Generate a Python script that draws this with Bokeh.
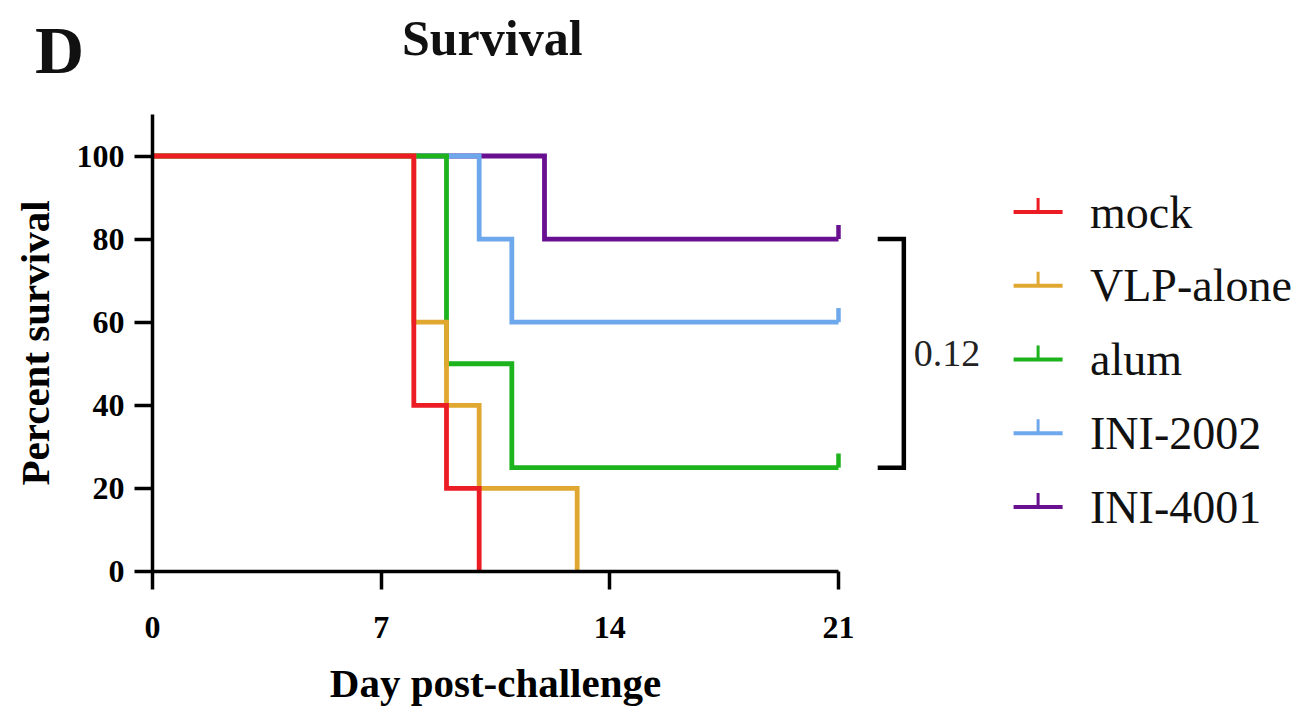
from bokeh.plotting import figure
from bokeh.models import Range1d, FixedTicker
from bokeh.core.properties import value
from bokeh.embed import file_html
from bokeh.resources import INLINE

# ---- data ----
groups = ["mock", "VLP-alone", "alum", "INI-2002", "INI-4001"]
colors = ["#EC1C24", "#E0A830", "#1DB31D", "#6EA8EC", "#68108F"]
mock_days = [0, 8, 9, 10]
mock_surv = [100, 40, 20, 0]
vlp_days = [0, 8, 9, 10, 13]
vlp_surv = [100, 60, 40, 20, 0]
alum_days = [0, 9, 11, 21]
alum_surv = [100, 50, 25, 25]
ini2002_days = [0, 10, 11, 21]
ini2002_surv = [100, 80, 60, 60]
ini4001_days = [0, 12, 21]
ini4001_surv = [100, 80, 80]
x_ticks = [0, 7, 14, 21]
y_ticks = [0, 20, 40, 60, 80, 100]
p_value = "0.12"
end_day = 21
title_text = "Survival"
panel_text = "D"

series_days = [mock_days, vlp_days, alum_days, ini2002_days, ini4001_days]
series_surv = [mock_surv, vlp_surv, alum_surv, ini2002_surv, ini4001_surv]

# ---- layout ----
W, H = 1295, 710
X0_PX, X21_PX = 152, 838        # screen x of day 0 and day 21
Y0_PX, Y100_PX = 571, 155.5     # screen y of 0 % and 100 %
ppd = (X21_PX - X0_PX) / 21.0
ppu = (Y0_PX - Y100_PX) / 100.0
x_lo, x_hi = -X0_PX / ppd, (W - X0_PX) / ppd
y_lo, y_hi = -(H - Y0_PX) / ppu, Y0_PX / ppu

FONT = value("Liberation Serif")
TICK_H = 3.4

p = figure(width=W, height=H, x_range=Range1d(x_lo, x_hi), y_range=Range1d(y_lo, y_hi),
           output_backend="svg", toolbar_location=None,
           min_border=0, min_border_left=0, min_border_right=0,
           min_border_top=0, min_border_bottom=0)
p.outline_line_color = None
p.grid.visible = False
p.background_fill_color = "white"
p.border_fill_color = "white"

# axes (fixed at the data origin)
for ax in (p.xaxis[0], p.yaxis[0]):
    ax.fixed_location = 0
    ax.axis_line_width = 3.5
    ax.axis_line_color = "black"
    ax.major_tick_line_width = 3.5
    ax.major_tick_line_color = "black"
    ax.major_tick_in = 0
    ax.major_tick_out = 18
    ax.minor_tick_line_color = None
    ax.major_label_text_font = "Liberation Serif"
    ax.major_label_text_font_style = "bold"
    ax.major_label_text_font_size = "32px"
    ax.major_label_text_color = "black"
    ax.axis_label_text_font = "Liberation Serif"
    ax.axis_label_text_font_style = "bold"
    ax.axis_label_text_font_size = "41px"
    ax.axis_label_text_color = "black"

p.xaxis.bounds = (0, 21)
p.yaxis.bounds = (0, 110)
p.xaxis.ticker = FixedTicker(ticks=x_ticks)
p.yaxis.ticker = FixedTicker(ticks=y_ticks)
p.xaxis.major_label_standoff = 27
p.yaxis.major_label_standoff = 10
p.xaxis.axis_label = "Day post-challenge"
p.yaxis.axis_label = "Percent survival"
p.xaxis.axis_label_standoff = 19
p.yaxis.axis_label_standoff = 16

# survival curves: draw in reverse so that mock is on top
for i in reversed(range(len(groups))):
    d, s = series_days[i], series_surv[i]
    p.step(d, s, mode="after", line_color=colors[i], line_width=4.8, line_join="miter")
    if s[-1] > 0:
        p.segment(x0=[end_day], y0=[s[-1]], x1=[end_day], y1=[s[-1] + TICK_H],
                  line_color=colors[i], line_width=4.5)

# bracket between alum and INI-4001
top = ini4001_surv[-1]
bot = alum_surv[-1]
bx0, bx1 = 22.2, 23.0
p.line([bx0, bx1, bx1, bx0], [top, top, bot, bot], line_color="black", line_width=4.5,
       line_join="miter")
p.text(x=[23.3], y=[(top + bot) / 2], text=[p_value], text_font=FONT,
       text_font_size="38px", text_baseline="middle", text_align="left", text_color="#222222")

# legend
row0, step = 86.5, 17.75
lx0, lx1, ltx = 26.36, 27.86, 28.7
for i, g in enumerate(groups):
    yy = row0 - i * step
    p.segment(x0=[lx0], y0=[yy], x1=[lx1], y1=[yy], line_color=colors[i], line_width=4)
    xm = (lx0 + lx1) / 2
    p.segment(x0=[xm], y0=[yy], x1=[xm], y1=[yy + TICK_H], line_color=colors[i], line_width=3)
    p.text(x=[ltx], y=[yy], text=[g], text_font=FONT, text_font_size="46px",
           text_baseline="middle", text_align="left", text_color="#111111")

# titles
p.text(x=[10.4], y=[128.3], text=[title_text], text_font=FONT, text_font_style="bold",
       text_font_size="50px", text_align="center", text_baseline="middle", text_color="#111111")
p.text(x=[-3.6], y=[125.6], text=[panel_text], text_font=FONT, text_font_style="bold",
       text_font_size="68px", text_align="left", text_baseline="middle", text_color="#111111")

open("out.html", "w").write(file_html(p, INLINE))
